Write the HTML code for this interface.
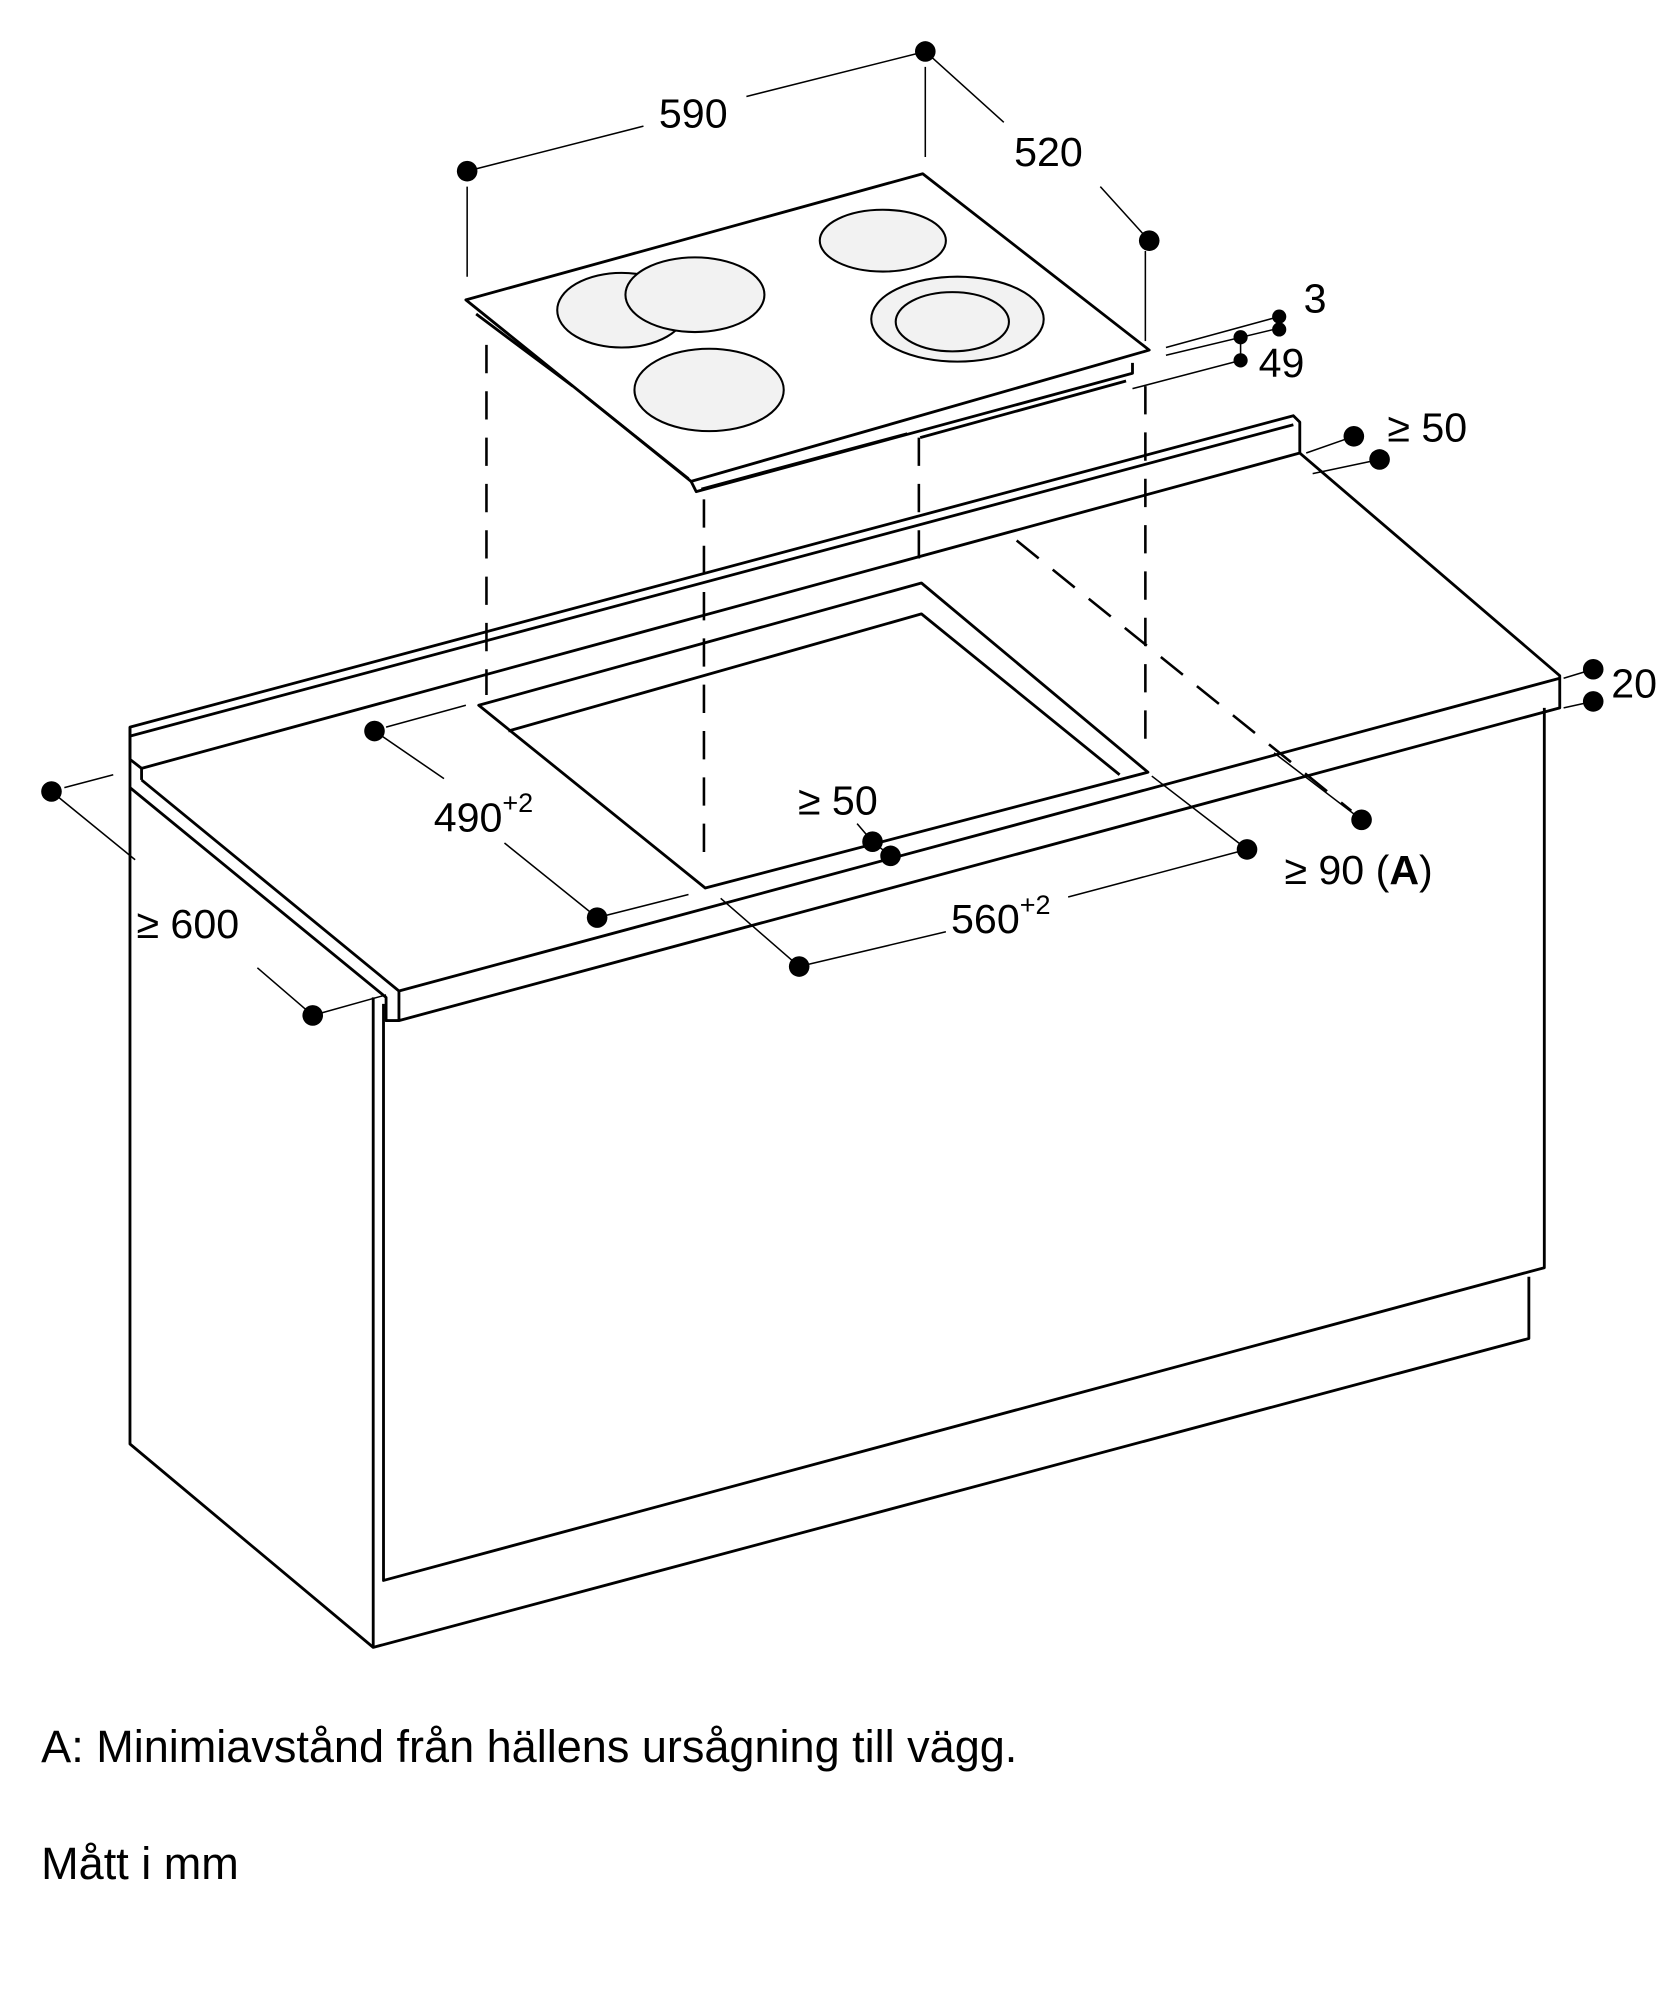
<!DOCTYPE html>
<html><head><meta charset="utf-8"><style>
html,body{margin:0;padding:0;background:#fff;}
svg{display:block;}
text{font-family:"Liberation Sans",sans-serif;fill:#000;}
</style></head><body>
<svg width="1673" height="2000" viewBox="0 0 1300 1554" preserveAspectRatio="none" xmlns="http://www.w3.org/2000/svg">
<g stroke="#000" stroke-width="2.2" fill="none" stroke-linejoin="round">
<polygon points="362,233 717,135 893,272 537,374" fill="#fff"/>
<path d="M537,374 L541,382 L880,290 L880,282"/>
<path d="M370,244 L445,300 M455,308 L535,372"/>
<path d="M545,380 L705,337 M715,340 L875,296"/>
<g stroke-width="1.6" fill="#f2f2f2">
<ellipse cx="483" cy="241" rx="50" ry="29"/>
<ellipse cx="540" cy="229" rx="54" ry="29"/>
<ellipse cx="686" cy="187" rx="49" ry="24"/>
<ellipse cx="744" cy="248" rx="67" ry="33"/>
<ellipse cx="740" cy="250" rx="44" ry="23"/>
<ellipse cx="551" cy="303" rx="58" ry="32"/>
</g>
<path d="M101,565 L1005,323 L1010,328 L1010,352 L110,597 L101,590 Z" fill="#fff"/>
<path d="M101,572 L1005,330"/>
<path d="M110,597 L110,606"/>
<path d="M1010,352 L1212,525 L1212,550 L310,793 L310,770 L1212,527"/>
<path d="M110,606 L310,770"/>
<path d="M101,565 L101,1122 L290,1280 L1188,1040 L1188,992"/>
<path d="M101,612 L300,775 L300,793 L310,793"/>
<path d="M290,775 L290,1280"/>
<path d="M298,780 L298,1228 L1200,985 L1200,550"/>
<polygon points="372,548 716,453 892,600 548,690"/>
<path d="M395,568 L716,477 L870,602"/>
</g>
<g stroke="#000" stroke-width="2" stroke-dasharray="22,14" fill="none">
<path d="M378,268 L378,540"/>
<path d="M547,388 L547,668"/>
<path d="M714,340 L714,440"/>
<path d="M890,300 L890,585"/>
<path d="M790,420 L1050,630"/>
</g>
<g stroke="#000" stroke-width="1.2" fill="none">
<path d="M363,133 L500,98 M580,75 L719,40"/>
<path d="M363,145 L363,215 M719,52 L719,122"/>
<path d="M719,40 L780,95 M855,145 L893,187"/>
<path d="M890,195 L890,265"/>
<path d="M906,270 L994,246 M906,276 L994,255"/>
<path d="M880,302 L964,280 M964,262 L964,280"/>
<path d="M1015,352 L1052,339 M1020,368 L1072,357"/>
<path d="M1215,527 L1238,520 M1215,550 L1238,545"/>
<path d="M291,568 L345,605 M392,655 L464,713"/>
<path d="M300,565 L362,548 M464,713 L535,695"/>
<path d="M621,751 L735,724 M830,697 L969,660"/>
<path d="M560,698 L621,751 M895,603 L969,660"/>
<path d="M678,654 L692,665 M666,640 L678,654"/>
<path d="M990,585 L1058,637"/>
<path d="M40,615 L105,668 M200,752 L243,789"/>
<path d="M50,612 L88,602 M250,787 L300,773"/>
</g>
<g fill="#000">
<circle cx="363" cy="133" r="8"/><circle cx="719" cy="40" r="8"/><circle cx="893" cy="187" r="8"/>
<circle cx="994" cy="246" r="5.5"/><circle cx="994" cy="256" r="5.5"/>
<circle cx="964" cy="262" r="5.5"/><circle cx="964" cy="280" r="5.5"/>
<circle cx="1052" cy="339" r="8"/><circle cx="1072" cy="357" r="8"/>
<circle cx="1238" cy="520" r="8"/><circle cx="1238" cy="545" r="8"/>
<circle cx="291" cy="568" r="8"/><circle cx="464" cy="713" r="8"/>
<circle cx="621" cy="751" r="8"/><circle cx="969" cy="660" r="8"/>
<circle cx="678" cy="654" r="8"/><circle cx="692" cy="665" r="8"/>
<circle cx="1058" cy="637" r="8"/>
<circle cx="40" cy="615" r="8"/><circle cx="243" cy="789" r="8"/>
</g>
<g font-size="32">
<text x="512" y="99">590</text>
<text x="788" y="129">520</text>
<text x="1013" y="243">3</text>
<text x="978" y="293">49</text>
<text x="1078" y="343">≥ 50</text>
<text x="1252" y="542">20</text>
<text x="337" y="646">490<tspan font-size="21" dy="-15">+2</tspan></text>
<text x="620" y="633">≥ 50</text>
<text x="998" y="687">≥ 90 (<tspan font-weight="bold">A</tspan>)</text>
<text x="739" y="725">560<tspan font-size="21" dy="-15">+2</tspan></text>
<text x="106" y="729">≥ 600</text>
</g>
<g font-size="35">
<text x="32" y="1369">A: Minimiavstånd från hällens ursågning till vägg.</text>
<text x="32" y="1460">Mått i mm</text>
</g>
</svg>
</body></html>
